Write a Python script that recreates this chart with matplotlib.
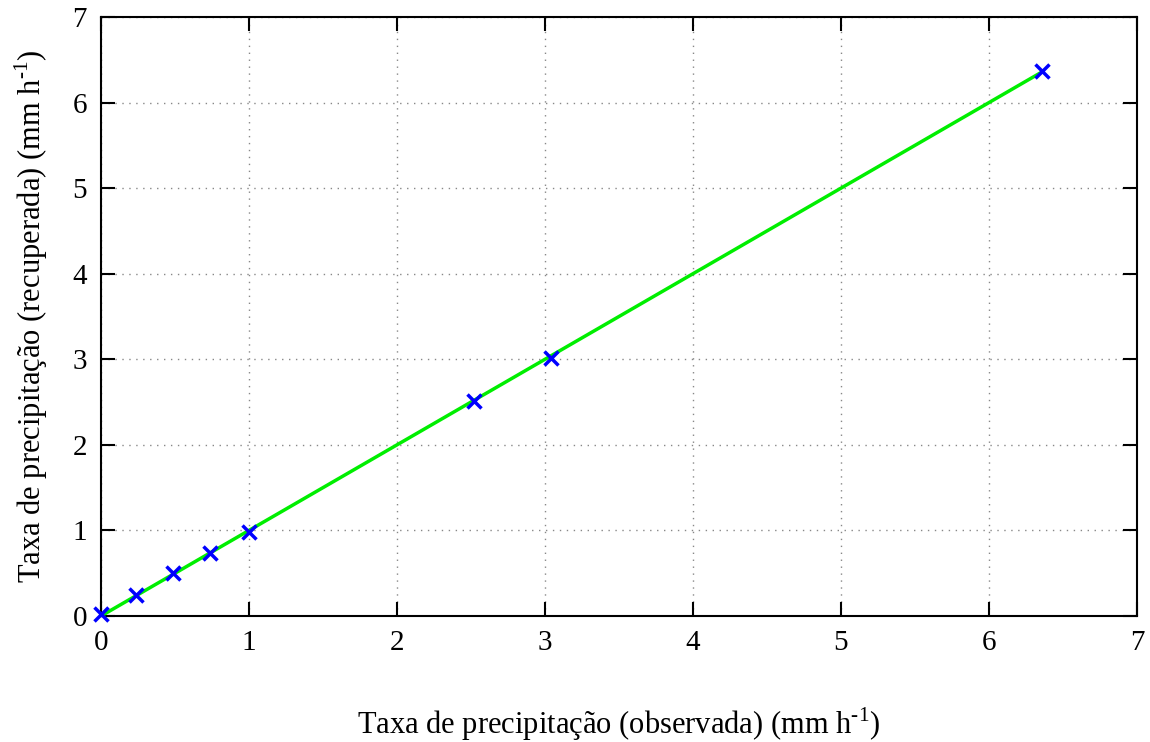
import matplotlib
matplotlib.use("Agg")
import matplotlib.pyplot as plt

obs = [0.0, 0.24, 0.49, 0.74, 1.00, 2.52, 3.04, 6.36]
rec = [0.02, 0.25, 0.50, 0.74, 0.98, 2.51, 3.01, 6.37]
fit_x = [0.0, 6.35]
fit_y = [0.0, 6.35]
ticks = [0, 1, 2, 3, 4, 5, 6, 7]

plt.rcParams['font.family'] = ['Liberation Serif', 'DejaVu Serif']
plt.rcParams['mathtext.fontset'] = 'custom'
plt.rcParams['mathtext.rm'] = 'Liberation Serif'

fig = plt.figure(figsize=(11.5, 7.42), dpi=100)
ax = fig.add_axes([0.0878, 0.1698, 0.9009, 0.8073])

ax.plot(fit_x, fit_y, color='#00ee00', lw=2.5, zorder=3)
ax.plot(obs, rec, linestyle='none', marker='x', color='#0000ff', ms=10, mew=2.5,
        zorder=4, clip_on=False)

ax.set_xlim(0, 7)
ax.set_ylim(0, 7)
ax.set_xticks(ticks)
ax.set_yticks(ticks)
ax.grid(True, linestyle=(0, (1, 4)), color='#888888', lw=1)
ax.tick_params(direction='in', length=10, width=1.5, top=True, right=True, labelsize=21, pad=10)
for s in ax.spines.values():
    s.set_linewidth(1.5)

ax.set_xlabel(r'Taxa de precipitação (observada) (mm h$^{\text{-}1}$)', fontsize=22, labelpad=36)
ax.set_ylabel(r'Taxa de precipitação (recuperada) (mm h$^{\text{-}1}$)', fontsize=22, labelpad=16)

fig.savefig('out.png', dpi=100)
